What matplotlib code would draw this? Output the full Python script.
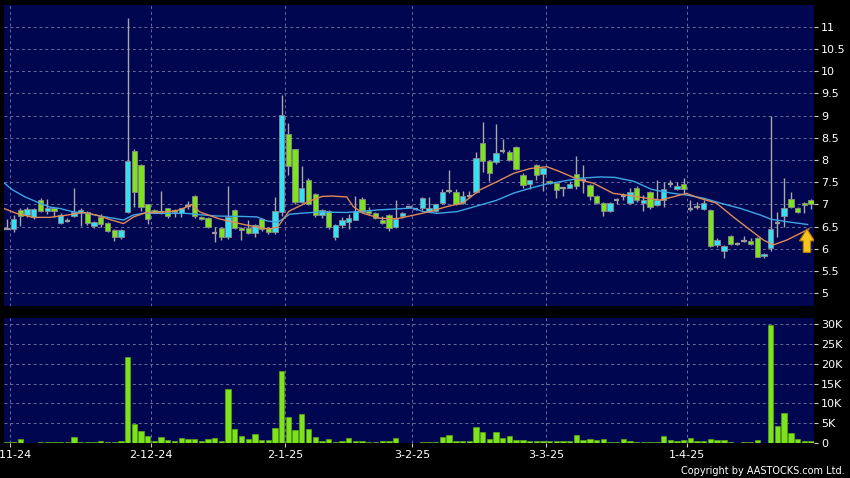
import matplotlib
matplotlib.use("Agg")
import matplotlib.pyplot as plt
import numpy as np

# ---------------- data ----------------
opens = [6.45, 6.44, 6.87, 6.77, 6.72, 7.10, 6.85, 6.91, 6.58, 6.63,
         6.74, 6.82, 6.83, 6.52, 6.72, 6.58, 6.42, 6.26, 6.82, 8.21,
         7.89, 7.00, 6.88, 6.83, 6.91, 6.88, 6.80, 6.97, 7.20, 6.72,
         6.70, 6.35, 6.48, 6.26, 6.88, 6.48, 6.48, 6.35, 6.67, 6.46,
         6.37, 6.84, 8.59, 8.24, 7.06, 7.56, 7.23, 6.76, 6.86, 6.26,
         6.54, 6.61, 6.66, 7.12, 6.86, 6.80, 6.66, 6.76, 6.49, 6.73,
         6.95, 6.90, 6.91, 6.86, 6.86, 7.03, 7.30, 7.27, 7.03, 7.20,
         7.27, 8.38, 7.97, 7.96, 8.21, 8.19, 8.29, 7.67, 7.45, 7.89,
         7.69, 7.53, 7.49, 7.38, 7.38, 7.68, 7.55, 7.44, 7.20, 7.04,
         6.86, 7.09, 7.19, 7.04, 7.38, 7.04, 7.28, 6.98, 7.11, 7.46,
         7.34, 7.46, 6.89, 6.95, 6.89, 6.87, 6.09, 5.95, 6.29, 6.10,
         6.18, 6.18, 6.24, 5.85, 6.01, 6.59, 6.75, 7.13, 6.93, 7.04,
         7.09]
highs = [6.67, 6.76, 6.93, 6.95, 6.92, 7.15, 7.12, 6.93, 6.80, 6.70,
         7.36, 6.91, 6.86, 6.63, 6.78, 6.60, 6.44, 6.45, 11.19, 8.25,
         7.92, 7.02, 6.90, 7.30, 6.93, 6.90, 6.93, 7.08, 7.22, 6.75,
         6.72, 6.50, 6.50, 7.42, 6.90, 6.50, 6.66, 6.55, 6.70, 6.50,
         7.16, 9.46, 8.84, 8.26, 7.86, 7.60, 7.25, 6.90, 6.88, 6.56,
         6.72, 6.78, 7.20, 7.17, 6.95, 6.82, 6.73, 6.78, 7.10, 6.82,
         6.97, 6.93, 7.16, 7.16, 7.02, 7.35, 7.77, 7.35, 7.30, 7.30,
         8.19, 8.85, 8.00, 8.81, 8.47, 8.22, 8.31, 7.70, 7.56, 7.90,
         7.82, 7.56, 7.51, 7.40, 7.52, 8.10, 7.88, 7.46, 7.22, 7.06,
         7.06, 7.15, 7.25, 7.38, 7.42, 7.22, 7.30, 7.56, 7.51, 7.55,
         7.50, 7.59, 7.10, 7.05, 7.10, 6.90, 6.25, 6.08, 6.31, 6.15,
         6.28, 6.25, 6.26, 5.90, 9.00, 6.84, 7.59, 7.27, 6.95, 7.05,
         7.12]
lows = [6.45, 6.38, 6.52, 6.71, 6.68, 6.83, 6.78, 6.72, 6.56, 6.60,
        6.72, 6.52, 6.53, 6.46, 6.50, 6.38, 6.18, 6.22, 6.80, 6.95,
        6.86, 6.56, 6.82, 6.78, 6.70, 6.72, 6.72, 6.90, 6.70, 6.65,
        6.46, 6.16, 6.20, 6.22, 6.44, 6.20, 6.33, 6.27, 6.40, 6.33,
        6.34, 6.74, 7.66, 7.00, 7.03, 6.98, 6.72, 6.70, 6.45, 6.20,
        6.48, 6.44, 6.64, 6.80, 6.76, 6.68, 6.56, 6.40, 6.46, 6.70,
        6.92, 6.88, 6.88, 6.84, 6.84, 7.00, 7.25, 6.98, 7.00, 7.15,
        7.25, 7.72, 7.53, 7.90, 8.15, 7.98, 7.78, 7.38, 7.35, 7.55,
        7.30, 7.45, 7.15, 7.20, 7.36, 7.35, 7.26, 7.10, 7.00, 6.74,
        6.84, 7.00, 7.10, 7.00, 7.05, 6.85, 6.90, 6.96, 6.95, 7.40,
        7.32, 7.25, 6.85, 6.90, 6.87, 6.04, 6.05, 5.79, 6.08, 6.08,
        6.15, 6.08, 5.82, 5.80, 5.95, 6.27, 6.50, 6.92, 6.80, 6.80,
        6.90]
closes = [6.45, 6.68, 6.74, 6.89, 6.89, 6.85, 6.91, 6.86, 6.77, 6.63,
          6.83, 6.87, 6.58, 6.61, 6.56, 6.41, 6.26, 6.42, 7.98, 7.27,
          6.95, 6.67, 6.84, 6.83, 6.75, 6.83, 6.93, 6.97, 6.74, 6.67,
          6.50, 6.35, 6.26, 6.72, 6.46, 6.43, 6.35, 6.53, 6.44, 6.38,
          6.86, 9.01, 7.86, 7.05, 7.36, 7.01, 6.76, 6.88, 6.49, 6.54,
          6.66, 6.70, 6.86, 6.84, 6.81, 6.70, 6.58, 6.47, 6.68, 6.80,
          6.95, 6.90, 7.14, 6.91, 7.00, 7.27, 7.30, 7.00, 7.20, 7.20,
          8.04, 7.97, 7.70, 8.16, 8.21, 8.01, 7.80, 7.43, 7.55, 7.67,
          7.81, 7.49, 7.32, 7.38, 7.47, 7.41, 7.55, 7.20, 7.04, 6.86,
          7.04, 7.09, 7.19, 7.28, 7.09, 7.11, 6.94, 7.10, 7.34, 7.46,
          7.41, 7.34, 6.89, 6.95, 7.04, 6.06, 6.21, 6.06, 6.10, 6.10,
          6.18, 6.10, 5.82, 5.88, 6.44, 6.59, 6.93, 6.94, 6.83, 6.98,
          7.02]
volumes_k = [0.4, 0.25, 1.1, 0.2, 0.1, 0.25, 0.25, 0.25, 0.25, 0.25,
             1.7, 0.4, 0.25, 0.25, 0.7, 0.25, 0.25, 0.7, 21.8, 4.9,
             3.2, 1.8, 0.7, 1.6, 0.75, 0.6, 1.4, 1.1, 1.1, 0.7,
             1.1, 1.3, 0.5, 13.6, 3.5, 1.8, 1.0, 2.3, 0.75, 0.75,
             3.9, 18.1, 6.6, 3.4, 7.3, 3.5, 1.6, 0.6, 1.1, 0.35,
             0.7, 1.3, 0.6, 0.6, 0.25, 0.25, 0.5, 0.6, 1.3, 0.2,
             0.1, 0.05, 0.3, 0.35, 0.4, 1.6, 2.1, 0.7, 0.7, 0.7,
             4.0, 2.8, 1.0, 2.8, 1.3, 1.8, 0.75, 0.75, 0.6, 0.6,
             0.7, 0.6, 0.7, 0.6, 0.6, 2.2, 0.9, 1.1, 0.85, 1.0,
             0.35, 0.25, 1.0, 0.5, 0.35, 0.35, 0.25, 0.25, 1.8, 0.75,
             0.6, 0.75, 1.3, 0.5, 0.5, 1.2, 0.75, 0.85, 0.25, 0.15,
             0.25, 0.25, 0.75, 0.15, 29.8, 4.4, 7.5, 2.5, 1.2, 0.7,
             0.7]

# moving averages (bar index, price)
ma_short_x = [-0.45, 1.4, 3.9, 6.4, 8.9, 11.4, 13.4, 15.4, 17.4, 18.9, 20.8, 22.8,
              25.3, 26.6, 27.5, 28.8, 31.6, 35.0, 37.4, 39.0, 40.4, 42.1, 43.6,
              45.2, 47.0, 48.5, 50.7, 51.7, 53.2, 55.7, 58.2, 60.7, 63.1, 65.6,
              68.1, 70.6, 73.1, 75.6, 78.1, 80.6, 82.5, 85.5, 87.5, 90.5, 92.5,
              95.5, 97.5, 99.4, 101.4, 103.4, 105.9, 108.4, 110.9, 112.9, 114.4,
              116.4, 118.4, 119.7]
ma_short_y = [6.91, 6.80, 6.71, 6.71, 6.76, 6.82, 6.76, 6.66, 6.57, 6.72, 6.82, 6.82,
              6.86, 6.93, 7.00, 6.83, 6.68, 6.56, 6.49, 6.45, 6.49, 6.85, 6.96,
              7.08, 7.18, 7.19, 7.17, 6.95, 6.80, 6.69, 6.68, 6.76, 6.84, 6.95,
              7.04, 7.33, 7.51, 7.70, 7.81, 7.85, 7.74, 7.55, 7.48, 7.25, 7.21,
              7.14, 7.10, 7.17, 7.25, 7.14, 7.03, 6.72, 6.43, 6.20, 6.09,
              6.20, 6.35, 6.45]
ma_long_x = [-0.45, 0.7, 2.7, 4.4, 6.4, 7.9, 9.7, 11.9, 13.9, 15.9, 17.4, 18.8,
             20.3, 22.8, 26.8, 28.8, 31.3, 35.3, 37.3, 38.8, 40.4, 42.2, 44.5,
             46.5, 50.7, 55.7, 60.5, 62.2, 64.2, 67.2, 70.7, 73.0, 75.7, 78.2,
             80.5, 82.8, 85.5, 88.5, 90.7, 93.6, 96.2, 99.0, 101.5, 104.0,
             106.5, 109.5, 112.5, 114.0, 116.5, 119.5]
ma_long_y = [7.49, 7.34, 7.17, 7.06, 6.94, 6.91, 6.84, 6.80, 6.74, 6.69, 6.65, 6.76,
             6.80, 6.80, 6.80, 6.77, 6.74, 6.73, 6.72, 6.63, 6.60, 6.78, 6.81,
             6.83, 6.82, 6.88, 6.92, 6.84, 6.80, 6.84, 6.99, 7.09, 7.26, 7.37,
             7.46, 7.52, 7.59, 7.62, 7.61, 7.52, 7.34, 7.26, 7.21, 7.14,
             7.03, 6.91, 6.76, 6.67, 6.61, 6.55]

tick_labels = ["1-11-24", "2-12-24", "2-1-25", "3-2-25", "3-3-25", "1-4-25"]
tick_first_bar = [1, 22, 42, 61, 81, 102]

price_ticks = [5, 5.5, 6, 6.5, 7, 7.5, 8, 8.5, 9, 9.5, 10, 10.5, 11]
vol_ticks = [0, 5, 10, 15, 20, 25, 30]
vol_tick_labels = ["0", "5K", "10K", "15K", "20K", "25K", "30K"]

# ---------------- style ----------------
BG = "#000000"
PANEL = "#00064f"
GRID = "#6a6a9a"
UP = "#35e0f2"
DOWN = "#7ee21c"
DOJI = "#9a9a9a"
WICK = "#a8a8a8"
EDGE = "#8a8a8a"
TXT = "#ffffff"

W, H = 850, 478
fig = plt.figure(figsize=(W / 100, H / 100), dpi=100, facecolor=BG)
axp = fig.add_axes([4 / W, 1 - 306 / H, 810.3 / W, 301 / H], facecolor=PANEL)
axv = fig.add_axes([4 / W, 1 - 443.3 / H, 810.3 / W, 125 / H], facecolor=PANEL)

n = len(opens)
x = np.arange(n)
o = np.array(opens); c = np.array(closes)
hi = np.array(highs); lo = np.array(lows)

grid_x = [k - 0.5 for k in tick_first_bar]

for ax in (axp, axv):
    ax.set_xlim(-0.45, 120.5)
    for s in ax.spines.values():
        s.set_visible(False)
    for gx in grid_x:
        ax.axvline(gx, color=GRID, lw=0.7, ls=(0, (3, 3)), zorder=1)

# price panel gridlines
for t in price_ticks:
    axp.axhline(t, color=GRID, lw=0.7, ls=(0, (3, 3)), zorder=1)

# wicks
axp.vlines(x, lo, hi, color=WICK, lw=1.0, zorder=2)

# bodies
width = 0.8
is_doji = np.isclose(o, c)
up = (c > o) & ~is_doji
down = (c < o) & ~is_doji
for mask, col in ((up, UP), (down, DOWN)):
    bottoms = np.minimum(o, c)[mask]
    heights = np.abs(c - o)[mask]
    axp.bar(x[mask], heights, width=width, bottom=bottoms, color=col,
            edgecolor=EDGE, linewidth=0.6, zorder=3)
axp.hlines(o[is_doji], x[is_doji] - width / 2, x[is_doji] + width / 2,
           color=DOJI, lw=1.6, zorder=3)

# moving averages
axp.plot(ma_long_x, ma_long_y, color="#3fa6e6", lw=1.0, zorder=4)
axp.plot(ma_short_x, ma_short_y, color="#e08a55", lw=1.0, zorder=4)

# yellow arrow at the last bar
ax_tip_x = 119.4
tip_y = ma_short_y[-1]
arrow_x = [ax_tip_x, ax_tip_x + 1.12, ax_tip_x + 0.55, ax_tip_x + 0.55,
           ax_tip_x - 0.55, ax_tip_x - 0.55, ax_tip_x - 1.12]
arrow_y = [tip_y, tip_y - 0.27, tip_y - 0.27, tip_y - 0.53,
           tip_y - 0.53, tip_y - 0.27, tip_y - 0.27]
axp.fill(arrow_x, arrow_y, facecolor="#f6c41c", edgecolor="#b27a00",
         lw=0.8, zorder=6)

axp.set_ylim(4.715, 11.49)
axp.yaxis.tick_right()
axp.set_yticks(price_ticks)
axp.set_yticklabels([("%g" % t) for t in price_ticks])
axp.tick_params(axis="y", colors=TXT, labelsize=8, length=3, width=0.8,
                direction="out", pad=2, labelcolor=TXT)
axp.tick_params(axis="y", color="#cccccc")
axp.set_xticks([])

# volume panel
for t in vol_ticks[1:]:
    axv.axhline(t, color=GRID, lw=0.7, ls=(0, (3, 3)), zorder=1)
axv.bar(x, volumes_k, width=0.8, color=DOWN, edgecolor="#5aa814",
        linewidth=0.5, zorder=3)
axv.set_ylim(0, 31.4)
axv.yaxis.tick_right()
axv.set_yticks(vol_ticks)
axv.set_yticklabels(vol_tick_labels)
axv.tick_params(axis="y", color="#cccccc", labelcolor=TXT, labelsize=8,
                length=3, width=0.8, pad=2)
axv.set_xticks(grid_x)
axv.set_xticklabels(tick_labels)
axv.tick_params(axis="x", color="#cccccc", labelcolor=TXT, labelsize=8,
                length=3, width=0.8, pad=2)

fig.text(845 / W, 1 - 471 / H, "Copyright by AASTOCKS.com Ltd.", color=TXT,
         fontsize=7, ha="right", va="center")

fig.savefig("out.png", dpi=100, facecolor=BG)
